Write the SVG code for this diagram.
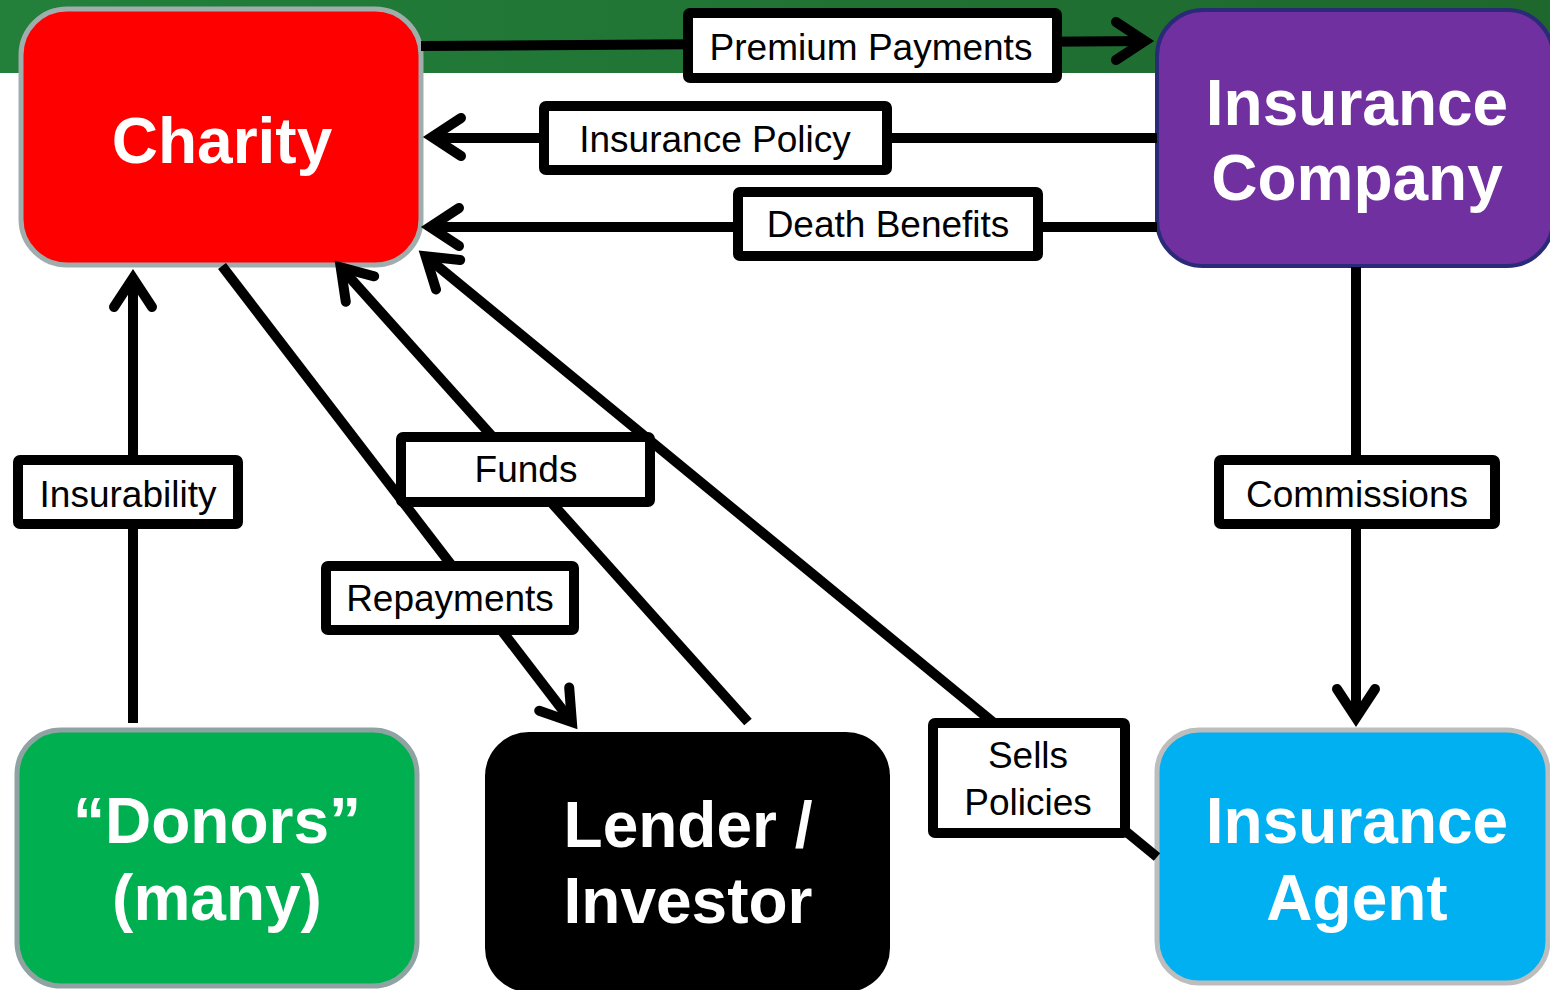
<svg xmlns="http://www.w3.org/2000/svg" width="1550" height="990" viewBox="0 0 1550 990">
<defs>
<linearGradient id="band" x1="0" y1="0" x2="1" y2="0">
<stop offset="0" stop-color="#23803b"/>
<stop offset="1" stop-color="#1e672d"/>
</linearGradient>
</defs>
<style>
.node-text{font-family:"Liberation Sans",Arial,sans-serif;font-weight:bold;font-size:64px;fill:#ffffff;text-anchor:middle}
.lbl-box{fill:#ffffff;stroke:#000000;stroke-width:10}
.lbl-text{font-family:"Liberation Sans",Arial,sans-serif;font-size:37px;fill:#000000;text-anchor:middle}
.conn{fill:none;stroke:#000000;stroke-width:10}
.head{fill:none;stroke:#000000;stroke-width:10;stroke-linecap:round;stroke-linejoin:miter}
</style>
<rect x="0" y="0" width="1550" height="73" fill="url(#band)"/>

<g id="charity">
<rect x="21" y="9" width="400" height="256" rx="46" fill="#ff0000" stroke="#a0adad" stroke-width="5"/>
<text class="node-text" x="222" y="163">Charity</text>
</g>
<g id="insurance-company">
<rect x="1157" y="10" width="396" height="256" rx="46" fill="#7030a0" stroke="#2b2a78" stroke-width="4"/>
<text class="node-text" x="1357" y="125">Insurance</text>
<text class="node-text" x="1357" y="200">Company</text>
</g>
<g id="donors">
<rect x="17" y="730" width="400" height="256" rx="44" fill="#00b050" stroke="#8fa3a3" stroke-width="5"/>
<text class="node-text" x="217" y="843">“Donors”</text>
<text class="node-text" x="217" y="920">(many)</text>
</g>
<g id="lender">
<rect x="485" y="732" width="405" height="260" rx="44" fill="#000000"/>
<text class="node-text" x="688" y="847">Lender /</text>
<text class="node-text" x="688" y="923">Investor</text>
</g>
<g id="insurance-agent">
<rect x="1157" y="730" width="391" height="253" rx="42" fill="#00b0f0" stroke="#bdbdbd" stroke-width="5"/>
<text class="node-text" x="1357" y="843">Insurance</text>
<text class="node-text" x="1357" y="920">Agent</text>
</g>

<g id="connectors">
<!-- Premium Payments -->
<path class="conn" d="M421 46 L1145 41"/>
<polyline class="head" points="1116,22 1145,41 1116,60"/>
<!-- Insurance Policy -->
<path class="conn" d="M432 138 L1157 138"/>
<polyline class="head" points="461,118 432,137 461,156"/>
<!-- Death Benefits -->
<path class="conn" d="M430 227 L1157 227"/>
<polyline class="head" points="459,208 430,227 459,246"/>
<!-- Commissions -->
<path class="conn" d="M1356 267 L1356 718"/>
<polyline class="head" points="1337,689 1356,718 1375,689"/>
<!-- Insurability -->
<path class="conn" d="M133 723 L133 278"/>
<polyline class="head" points="114,307 133,278 152,307"/>
<!-- Repayments -->
<path class="conn" d="M222 266 L571.9 722.1"/>
<polyline class="head" points="539.2,710.7 571.9,722.1 569.2,687.5"/>
<!-- Funds -->
<path class="conn" d="M748 722 L340.7 267.4"/>
<polyline class="head" points="374.2,276.3 340.7,267.4 345.8,301.7"/>
<!-- Sells Policies -->
<path class="conn" d="M1157 857 L425.7 256.3"/>
<polyline class="head" points="460.2,260 425.7,256.3 436,289.4"/>
</g>

<g id="label-premium">
<rect class="lbl-box" x="688" y="13" width="369" height="65" rx="2"/>
<text class="lbl-text" x="871" y="60">Premium Payments</text>
</g>
<g id="label-policy">
<rect class="lbl-box" x="544" y="106" width="343" height="64" rx="2"/>
<text class="lbl-text" x="715" y="152">Insurance Policy</text>
</g>
<g id="label-death">
<rect class="lbl-box" x="738" y="192" width="300" height="64" rx="2"/>
<text class="lbl-text" x="888" y="237">Death Benefits</text>
</g>
<g id="label-insurability">
<rect class="lbl-box" x="18" y="460" width="220" height="64" rx="2"/>
<text class="lbl-text" x="128" y="507">Insurability</text>
</g>
<g id="label-commissions">
<rect class="lbl-box" x="1219" y="460" width="276" height="64" rx="2"/>
<text class="lbl-text" x="1357" y="507">Commissions</text>
</g>
<g id="label-funds">
<rect class="lbl-box" x="401" y="437" width="249" height="65" rx="2"/>
<text class="lbl-text" x="526" y="482">Funds</text>
</g>
<g id="label-repayments">
<rect class="lbl-box" x="326" y="566" width="248" height="64" rx="2"/>
<text class="lbl-text" x="450" y="611">Repayments</text>
</g>
<g id="label-sells">
<rect class="lbl-box" x="933" y="723" width="192" height="110" rx="2"/>
<text class="lbl-text" x="1028" y="768">Sells</text>
<text class="lbl-text" x="1028" y="815">Policies</text>
</g>
</svg>
